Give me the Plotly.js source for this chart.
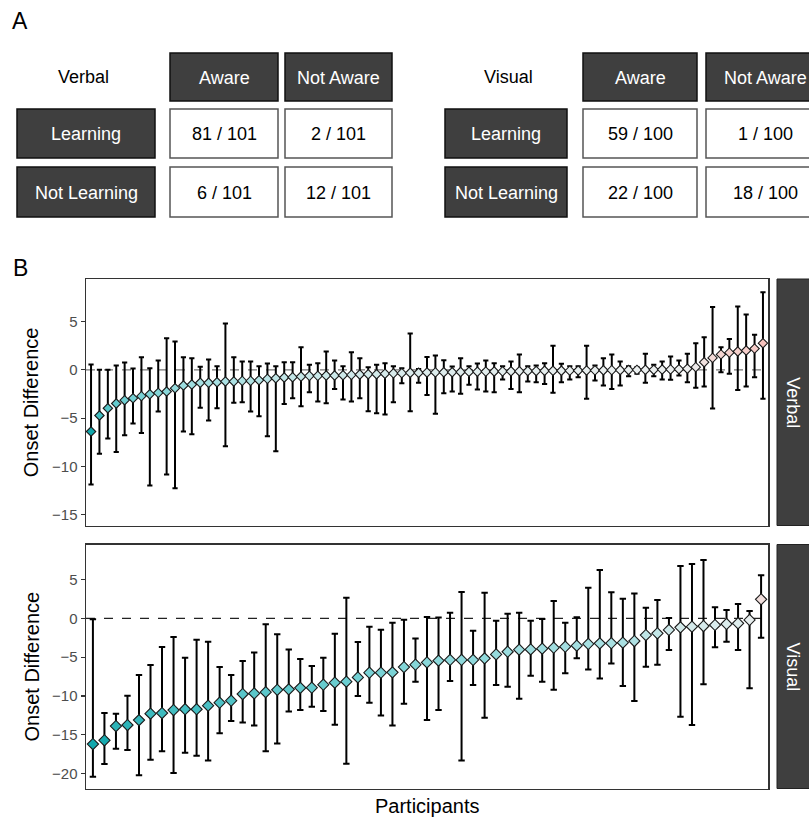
<!DOCTYPE html>
<html>
<head>
<meta charset="utf-8">
<script src="https://cdn.plot.ly/plotly-3.0.1.min.js"></script>
<style>html,body{margin:0;padding:0;background:#fff;}#chart{width:809px;height:821px;}</style>
</head>
<body>
<div id="chart"></div>
<script>
// ---------- DATA ----------
// Panel A: contingency tables
const tableRowLabels = ['Learning', 'Not Learning'];
const tableColLabels = ['Aware', 'Not Aware'];
const verbalCounts = [[81, 2], [6, 12]];
const verbalTotal = 101;
const visualCounts = [[59, 1], [22, 18]];
const visualTotal = 100;

// Panel B: Verbal (sorted participants) - mean onset difference and interval
const verbalMean = [-6.38,-4.72,-3.97,-3.48,-3.14,-2.93,-2.72,-2.52,-2.38,-2.24,
  -1.90,-1.62,-1.52,-1.34,-1.34,-1.28,-1.20,-1.20,-1.14,-1.14,
  -1.07,-0.93,-0.86,-0.79,-0.76,-0.69,-0.62,-0.62,-0.59,-0.59,
  -0.55,-0.52,-0.48,-0.45,-0.45,-0.40,-0.36,-0.34,-0.30,-0.30,
  -0.27,-0.26,-0.25,-0.24,-0.22,-0.20,-0.19,-0.18,-0.17,-0.16,
  -0.15,-0.14,-0.12,-0.11,-0.10,-0.10,-0.09,-0.08,-0.07,-0.06,
  -0.05,-0.04,-0.03,-0.02,-0.01,0.00,0.01,0.02,0.03,0.05,
  0.07,0.12,0.28,0.79,1.24,1.60,1.78,1.90,2.00,2.20,2.76];
const verbalUpper = [0.55,0.00,0.00,0.45,0.76,0.14,1.31,0.17,0.97,3.28,
  2.93,1.31,1.21,0.31,1.07,0.38,4.79,1.31,0.86,0.86,
  0.38,0.66,0.38,0.79,0.79,2.34,0.52,0.69,1.90,0.97,
  0.38,1.83,1.21,0.28,0.52,0.69,0.38,0.17,3.76,0.10,
  1.34,1.48,1.00,0.34,1.21,0.38,0.66,0.97,0.69,0.38,
  0.86,1.59,0.38,0.45,0.69,2.50,0.62,0.38,0.38,2.50,
  0.45,1.20,1.59,0.86,0.38,0.28,1.66,0.52,0.86,1.38,
  0.97,1.66,2.76,3.38,6.50,2.34,3.20,6.55,5.72,3.62,8.03];
const verbalLower = [-11.86,-8.69,-7.10,-8.50,-6.76,-5.55,-6.52,-11.97,-4.31,-10.83,
  -12.24,-6.38,-6.66,-3.93,-5.24,-3.97,-7.90,-3.41,-3.34,-4.31,
  -4.79,-6.86,-8.41,-3.52,-2.93,-3.76,-2.31,-3.28,-3.45,-1.97,
  -3.07,-3.28,-2.93,-4.28,-4.48,-4.62,-3.34,-1.38,-4.28,-1.34,
  -2.59,-4.55,-2.41,-2.24,-2.48,-1.55,-2.03,-2.24,-2.31,-1.00,
  -1.97,-2.31,-1.21,-1.28,-1.45,-2.38,-1.28,-1.00,-0.76,-3.00,
  -1.10,-1.62,-1.97,-1.62,-0.66,-0.41,-1.34,-0.66,-1.00,-1.03,
  -0.59,-1.28,-1.86,-1.72,-4.00,-0.24,-0.41,-2.07,-1.72,-0.76,-3.00];

// Panel B: Visual
const visualMean = [-16.18,-15.70,-13.86,-13.73,-13.10,-12.27,-12.19,-11.80,-11.70,-11.70,
  -11.24,-10.86,-10.60,-9.74,-9.66,-9.50,-9.20,-9.14,-8.95,-8.93,
  -8.54,-8.28,-8.15,-7.60,-7.00,-7.00,-6.95,-6.27,-5.97,-5.67,
  -5.45,-5.36,-5.36,-5.36,-5.15,-4.64,-4.30,-4.03,-4.00,-3.90,
  -3.78,-3.65,-3.52,-3.30,-3.22,-3.20,-3.13,-2.92,-2.15,-1.93,
  -1.50,-1.16,-1.07,-0.99,-0.86,-0.73,-0.64,-0.21,2.45];
const visualUpper = [-0.13,-12.20,-12.27,-9.96,-7.30,-6.00,-3.70,-2.40,-5.06,-2.75,
  -3.00,-6.27,-7.30,-5.50,-4.40,-0.77,-2.06,-4.00,-5.25,-6.14,
  -5.06,-2.00,2.66,-3.05,-1.07,-1.46,-0.56,-0.17,-2.60,0.17,
  0.09,0.73,3.39,-1.60,3.30,-0.30,0.60,0.73,-0.30,-0.09,
  2.23,-0.56,0.13,3.95,6.22,3.35,2.53,3.20,1.37,2.36,
  0.04,6.74,7.00,7.50,1.42,1.07,1.85,0.94,5.54];
const visualLower = [-20.40,-18.75,-16.80,-16.95,-20.20,-18.20,-17.10,-19.90,-17.30,-17.70,
  -18.30,-14.80,-13.20,-13.40,-13.80,-17.10,-16.10,-12.00,-11.80,-11.37,
  -11.93,-13.70,-18.70,-10.00,-10.86,-12.50,-13.80,-11.00,-8.15,-13.10,
  -11.80,-8.07,-18.30,-8.58,-12.80,-8.58,-8.80,-10.34,-7.38,-8.15,
  -9.20,-7.08,-5.15,-6.57,-7.73,-5.80,-8.70,-10.64,-6.22,-5.97,
  -4.08,-12.66,-13.73,-8.50,-3.73,-3.00,-4.08,-9.00,-2.49];

const panelNames = ['Verbal', 'Visual'];
const verbalTicks = [-15, -10, -5, 0, 5];
const visualTicks = [-20, -15, -10, -5, 0, 5];
const xTitle = 'Participants';
const yTitle = 'Onset Difference';

// ---------- LAYOUT HELPERS ----------
const W = 809, H = 821;
const px = v => v / W;
const py = v => 1 - v / H;
const FONT = 'Liberation Sans, Arial, Helvetica, sans-serif';
const DARK = '#3f3f3f';

const shapes = [];
const annotations = [];

function box(x0, x1, y0, y1, fill, line) {
  shapes.push({type:'rect', xref:'paper', yref:'paper', x0:px(x0), x1:px(x1), y0:py(y1), y1:py(y0),
    fillcolor: fill, line:{color: line, width: 1.5}, layer:'above'});
}
function label(text, x, y, opts) {
  annotations.push(Object.assign({text: text, xref:'paper', yref:'paper', x: px(x), y: py(y),
    showarrow:false, xanchor:'center', yanchor:'middle',
    font:{family: FONT, size: 18, color:'#000'}}, opts || {}));
}

// Panel A tables
function drawTable(name, counts, total, labelCol, cols, nameX) {
  const rows = [[109, 158], [167, 217]];
  const head = [53, 101];
  label(name, nameX, 77);
  cols.forEach((c, j) => {
    box(c[0], c[1], head[0], head[1], DARK, '#111');
    label(tableColLabels[j], (c[0] + c[1]) / 2, (head[0] + head[1]) / 2 + 1, {font:{family:FONT, size:18, color:'#fff'}});
  });
  rows.forEach((r, i) => {
    box(labelCol[0], labelCol[1], r[0], r[1], DARK, '#111');
    label(tableRowLabels[i], (labelCol[0] + labelCol[1]) / 2, (r[0] + r[1]) / 2 + 1, {font:{family:FONT, size:18, color:'#fff'}});
    cols.forEach((c, j) => {
      box(c[0], c[1], r[0], r[1], '#fff', '#555');
      label(counts[i][j] + ' / ' + total, (c[0] + c[1]) / 2, (r[0] + r[1]) / 2 + 1);
    });
  });
}
drawTable(panelNames[0], verbalCounts, verbalTotal, [17, 155], [[170, 278], [285, 392]], 83);
drawTable(panelNames[1], visualCounts, visualTotal, [445, 567], [[583, 697], [706, 824]], 508);

label('A', 20, 21, {font:{family:FONT, size:23, color:'#000'}});
label('B', 20, 268, {font:{family:FONT, size:23, color:'#000'}});

// Panel B geometry
const panelX = [86, 768];
const panels = [[279, 525.5], [544.5, 788.5]];
const zeroColors = ['#777', '#222'];

panels.forEach((p, i) => {
  // strip
  shapes.push({type:'rect', xref:'paper', yref:'paper', x0:px(777), x1:px(812), y0:py(p[1]), y1:py(p[0]),
    fillcolor: DARK, line:{color:'#222', width:1}, layer:'above'});
  label(panelNames[i], 793, (p[0] + p[1]) / 2, {textangle: 90, font:{family:FONT, size:18, color:'#fff'}});
  // y title
  label(yTitle, 31, (p[0] + p[1]) / 2, {textangle: -90, font:{family:FONT, size:20, color:'#000'}});
  // zero line
  shapes.push({type:'line', xref:(i === 0 ? 'x domain' : 'x2 domain'), yref:(i === 0 ? 'y' : 'y2'),
    x0:0, x1:1, y0:0, y1:0, line:{color: zeroColors[i], width:1.3, dash:'dash'}, layer:'below'});
});
label(xTitle, 427, 806, {font:{family:FONT, size:20, color:'#000'}});

function colorScaleFor(vals) {
  const m = Math.max.apply(null, vals.map(Math.abs));
  return {cmin: -m, cmax: m};
}
const cs = [[0, '#12A8AD'], [0.25, '#6CCED1'], [0.4, '#A8E0E2'], [0.5, '#EBEFEF'],
            [0.6, '#F4DAD7'], [0.75, '#F6BBB6'], [1, '#F8766D']];

function makeTrace(mean, upper, lower, xa, ya, msize, capw) {
  const xs = mean.map((_, k) => k + 1);
  const lim = colorScaleFor(mean);
  return {
    type:'scatter', mode:'markers', x: xs, y: mean, xaxis: xa, yaxis: ya,
    error_y: {type:'data', symmetric:false,
      array: upper.map((u, k) => u - mean[k]),
      arrayminus: lower.map((l, k) => mean[k] - l),
      color:'#000', thickness:2, width:capw},
    marker: {symbol:'diamond', size:msize, color: mean, colorscale: cs, cmin: lim.cmin, cmax: lim.cmax,
      line:{color:'#1a1a1a', width:1.1}},
    hoverinfo:'skip', showlegend:false
  };
}

const data = [
  makeTrace(verbalMean, verbalUpper, verbalLower, 'x', 'y', 7.2, 2.6),
  makeTrace(visualMean, visualUpper, visualLower, 'x2', 'y2', 8.6, 3.2)
];

const axisX = (n) => ({domain:[px(panelX[0]), px(panelX[1])], range:[0.4, n + 0.6], showticklabels:false,
  ticks:'', showgrid:false, zeroline:false, showline:true, mirror:true, linecolor:'#333', linewidth:1.5, fixedrange:true});
const axisY = (range, ticks, p) => ({domain:[py(p[1]), py(p[0])], range: range, tickvals: ticks,
  ticks:'outside', ticklen:4, tickwidth:1.2, tickcolor:'#333', showgrid:false, zeroline:false,
  showline:true, mirror:true, linecolor:'#333', linewidth:1.5,
  tickfont:{family:FONT, size:15, color:'#4d4d4d'}, fixedrange:true});

const layout = {
  width: W, height: H,
  margin:{l:0, r:0, t:0, b:0},
  paper_bgcolor:'#fff', plot_bgcolor:'#fff',
  showlegend:false,
  xaxis: Object.assign(axisX(verbalMean.length), {anchor:'y'}),
  xaxis2: Object.assign(axisX(visualMean.length), {anchor:'y2'}),
  yaxis: Object.assign(axisY([-16.1, 9.4], verbalTicks, panels[0]), {anchor:'x'}),
  yaxis2: Object.assign(axisY([-21.9, 9.5], visualTicks, panels[1]), {anchor:'x2'}),
  shapes: shapes,
  annotations: annotations
};

Plotly.newPlot('chart', data, layout, {displayModeBar:false, staticPlot:true});
</script>
</body>
</html>
